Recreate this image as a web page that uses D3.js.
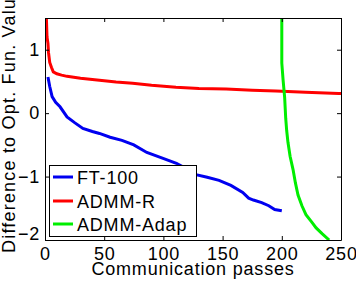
<!DOCTYPE html>
<html>
<head>
<meta charset="UTF-8">
<style>
  body { margin: 0; background: #fff; }
  svg { display: block; font-family: 'Liberation Sans', Arial, sans-serif; }
</style>
<script src="https://d3js.org/d3.v7.min.js"></script>
</head>
<body>
<svg id="chart" width="356" height="284"></svg>
<script>
// values
const xTicks = [0, 50, 100, 150, 200, 250];
const yTicks = [-2, -1, 0, 1];
const seriesNames = ["FT-100", "ADMM-R", "ADMM-Adap"];
const seriesColors = ["#0000f0", "#ff0000", "#00ee00"];

const ftX = [2.5, 4, 6, 9, 12.7, 18.6, 25, 32, 40, 46, 55, 65, 75, 86, 98, 111, 120, 127.5, 137, 147, 157, 167, 172, 176, 183, 189, 194, 200];
const ftY = [0.57, 0.42, 0.26, 0.17, 0.1, -0.06, -0.15, -0.24, -0.29, -0.32, -0.38, -0.43, -0.5, -0.62, -0.7, -0.79, -0.88, -0.97, -1.01, -1.06, -1.14, -1.25, -1.34, -1.37, -1.41, -1.46, -1.52, -1.54];

const admmRX = [1, 1.7, 2.5, 3, 4, 5.5, 7, 10, 14, 18.6, 30, 46, 60, 74, 90, 110.6, 130, 153, 175, 195, 220, 248, 250];
const admmRY = [1.6, 1.2, 1.1, 0.95, 0.8, 0.72, 0.65, 0.62, 0.6, 0.58, 0.55, 0.52, 0.49, 0.47, 0.44, 0.41, 0.39, 0.38, 0.36, 0.35, 0.33, 0.31, 0.31];

const adapX = [200, 200, 201.1, 202.4, 203.3, 204.1, 205.2, 207, 209.5, 211.5, 213.7, 217, 220.4, 225, 229, 234, 240];
const adapY = [2.0, 0.79, 0.52, 0.25, -0.08, -0.27, -0.46, -0.68, -0.89, -1.1, -1.29, -1.46, -1.6, -1.71, -1.81, -1.9, -2.0];

const series = [
  { name: seriesNames[0], color: seriesColors[0], x: ftX, y: ftY },
  { name: seriesNames[1], color: seriesColors[1], x: admmRX, y: admmRY },
  { name: seriesNames[2], color: seriesColors[2], x: adapX, y: adapY }
];

const svg = d3.select("#chart");
const m = { left: 45, right: 341, top: 18, bottom: 240 };

const x = d3.scaleLinear().domain([0, 250]).range([m.left, m.right]);
const y = d3.scaleLinear().domain([-2, 1.5]).range([m.bottom, m.top]);

svg.append("clipPath").attr("id", "clip")
  .append("rect")
  .attr("x", m.left).attr("y", m.top)
  .attr("width", m.right - m.left).attr("height", m.bottom - m.top);

// lines
const line = d3.line().x(d => x(d[0])).y(d => y(d[1]));
const lines = svg.append("g").attr("clip-path", "url(#clip)");
series.forEach(s => {
  lines.append("path")
    .attr("d", line(s.x.map((v, i) => [v, s.y[i]])))
    .attr("fill", "none")
    .attr("stroke", s.color)
    .attr("stroke-width", 3);
});

// axes, matlab style with inward ticks on every side
const fontSize = 18;
const spacing = "0.8px";
const axBottom = svg.append("g").attr("transform", `translate(0,${m.bottom})`)
  .call(d3.axisBottom(x).tickValues(xTicks).tickSize(-4).tickPadding(7).tickSizeOuter(0));
const axTop = svg.append("g").attr("transform", `translate(0,${m.top})`)
  .call(d3.axisTop(x).tickValues(xTicks).tickSize(-4).tickFormat("").tickSizeOuter(0));
const axLeft = svg.append("g").attr("transform", `translate(${m.left},0)`)
  .call(d3.axisLeft(y).tickValues(yTicks).tickSize(-4).tickPadding(5).tickSizeOuter(0)
    .tickFormat(d => d < 0 ? "\u2212" + Math.abs(d) : d));
const axRight = svg.append("g").attr("transform", `translate(${m.right},0)`)
  .call(d3.axisRight(y).tickValues(yTicks).tickSize(-4).tickFormat("").tickSizeOuter(0));

[axBottom, axTop, axLeft, axRight].forEach(a => {
  a.select(".domain").attr("stroke", "#000");
  a.selectAll(".tick line").attr("stroke", "#000");
  a.selectAll("text").attr("fill", "#000").style("font-size", fontSize + "px")
    .style("letter-spacing", spacing)
    .attr("font-family", "'Liberation Sans', Arial, sans-serif");
});
// matlab lifts the lowest y label a bit
axLeft.selectAll(".tick text").filter(d => d === -2).attr("dy", "-0.05em");

// axis labels
svg.append("text")
  .attr("x", (m.left + m.right) / 2)
  .attr("y", 275)
  .attr("text-anchor", "middle")
  .style("font-size", fontSize + "px")
  .style("letter-spacing", spacing)
  .text("Communication passes");

svg.append("text")
  .attr("transform", "translate(15,253) rotate(-90)")
  .attr("text-anchor", "start")
  .style("font-size", fontSize + "px")
  .style("letter-spacing", "1.2px")
  .text("Difference to Opt. Fun. Value");

// legend
const lg = svg.append("g");
lg.append("rect")
  .attr("x", 49.5).attr("y", 165.5)
  .attr("width", 147).attr("height", 71)
  .attr("fill", "#fff").attr("stroke", "#000");
const rowY = [177, 201, 224];
series.forEach((s, i) => {
  lg.append("line")
    .attr("x1", 53).attr("x2", 73)
    .attr("y1", rowY[i]).attr("y2", rowY[i])
    .attr("stroke", s.color).attr("stroke-width", 3);
  lg.append("text")
    .attr("x", 77).attr("y", rowY[i] + 6.5)
    .style("font-size", fontSize + "px")
    .style("letter-spacing", spacing)
    .text(s.name);
});
</script>
</body>
</html>
